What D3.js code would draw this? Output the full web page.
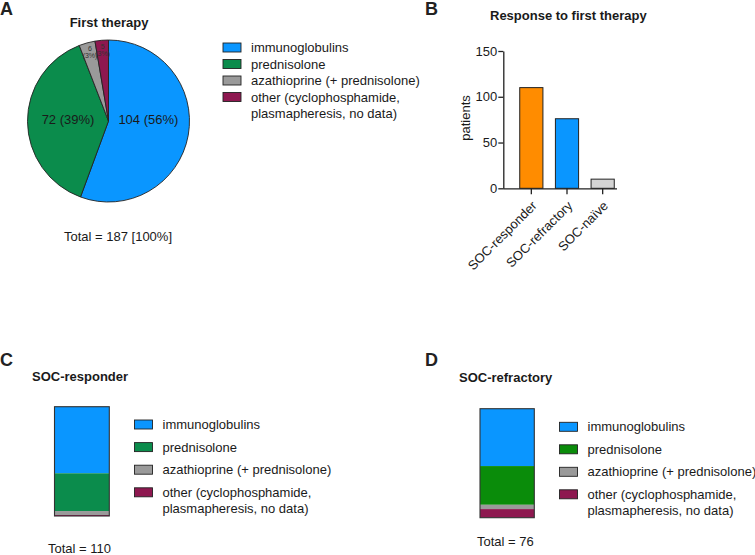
<!DOCTYPE html>
<html>
<head>
<meta charset="utf-8">
<script src="https://cdn.jsdelivr.net/npm/d3@7"></script>
<style>
  body { margin: 0; background: #fff; }
  text { font-family: "Liberation Sans", Arial, sans-serif; fill: #1a1a1a; }
  .panelLetter { font-size: 18px; font-weight: bold; fill: #222; }
  .title { font-size: 13px; font-weight: bold; }
  .axis text { font-size: 13px; fill: #1a1a1a; }
  .axis path, .axis line { stroke: #222; stroke-width: 1.3; }
</style>
</head>
<body>
<div id="visualisation"></div>
<script>
// treatment categories (shared by A, C, D)
const treatments = [
  "immunoglobulins",
  "prednisolone",
  "azathioprine (+ prednisolone)",
  "other (cyclophosphamide,|plasmapheresis, no data)"
];
const firstTherapy = [104, 72, 6, 5];
const firstPct = ["56%", "39%", "3%", "3%"];

const responseCats = ["SOC-responder", "SOC-refractory", "SOC-naive"];
const responseVals = [110, 76, 10];
const yTicks = [0, 50, 100, 150];

const responderVals = [67, 38, 4, 1];
const refractoryVals = [40, 27, 3, 6];

const colorsA = ["#0a96ff", "#0b8c4c", "#9a9a9a", "#8e1850"];
const colorsD = ["#0a96ff", "#0a8c0a", "#9a9a9a", "#8e1850"];
const barColors = ["#ff8c00", "#0a96ff", "#d4d4d4"];

const svg = d3
  .select("#visualisation")
  .append("svg")
  .attr("width", 755)
  .attr("height", 555);

function letter(x, y, s) {
  svg.append("text").attr("class", "panelLetter").attr("x", x).attr("y", y).text(s);
}

function legend(x, y, step, colors) {
  const g = svg.append("g").attr("transform", `translate(${x},${y})`);
  treatments.forEach((t, i) => {
    g.append("rect")
      .attr("x", 0)
      .attr("y", i * step - 4.5)
      .attr("width", 18)
      .attr("height", 9)
      .attr("fill", colors[i])
      .attr("stroke", "#222")
      .attr("stroke-width", 0.9);
    t.split("|").forEach((line, j) => {
      g.append("text")
        .attr("x", 28)
        .attr("y", i * step + j * 16.5)
        .attr("dy", "0.35em")
        .style("font-size", "13px")
        .text(line);
    });
  });
}

// ---- Panel A: pie
letter(0, 15, "A");
svg.append("text").attr("class", "title").attr("x", 109).attr("y", 27)
  .attr("text-anchor", "middle").text("First therapy");

const r = 81;
const pieG = svg.append("g").attr("transform", "translate(108.5,121)");
const colourA = d3.scaleOrdinal().domain(treatments).range(colorsA);
const pie = d3.pie().sort(null).value(d => d.v);
const arcs = pie(treatments.map((t, i) => ({ t, v: firstTherapy[i], p: firstPct[i] })));
const arc = d3.arc().innerRadius(0).outerRadius(r);

pieG.selectAll("path.slice")
  .data(arcs)
  .enter()
  .append("path")
  .attr("class", "slice")
  .attr("d", arc)
  .attr("fill", d => colourA(d.data.t))
  .attr("stroke", "#222")
  .attr("stroke-width", 0.9);

const bigArc = d3.arc().innerRadius(r * 0.5).outerRadius(r * 0.5);
const smallArc = d3.arc().innerRadius(r * 0.86).outerRadius(r * 0.86);
arcs.forEach(d => {
  if (d.data.v > 20) {
    // big labels sit on the horizontal midline of the pie
    const [cx] = bigArc.centroid(d);
    pieG.append("text")
      .attr("x", cx)
      .attr("y", -2)
      .attr("dy", "0.35em")
      .attr("text-anchor", "middle")
      .style("font-size", "13px")
      .text(`${d.data.v} (${d.data.p})`);
  } else {
    const [cx, cy] = smallArc.centroid(d);
    const t = pieG.append("text")
      .attr("text-anchor", "middle")
      .style("font-size", "7px")
      .style("fill", "#333");
    t.append("tspan").attr("x", cx).attr("y", cy - 3).text(d.data.v);
    t.append("tspan").attr("x", cx).attr("y", cy + 4.5).text(`(${d.data.p})`);
  }
});

svg.append("text").attr("x", 118).attr("y", 241).attr("text-anchor", "middle")
  .style("font-size", "13px").text(`Total = ${d3.sum(firstTherapy)} [100%]`);

legend(223, 47.5, 16.5, colorsA);

// ---- Panel B: bars
letter(425, 15, "B");
svg.append("text").attr("class", "title").attr("x", 490).attr("y", 20)
  .text("Response to first therapy");

const x = d3.scaleBand().domain(responseCats).range([513.5, 620.5])
  .paddingInner(0.35).paddingOuter(0.175);
const y = d3.scaleLinear().domain([0, 150]).range([188.3, 51]);

svg.selectAll("rect.bar")
  .data(responseCats)
  .enter()
  .append("rect")
  .attr("class", "bar")
  .attr("x", d => x(d))
  .attr("width", x.bandwidth())
  .attr("y", (d, i) => y(responseVals[i]))
  .attr("height", (d, i) => y(0) - y(responseVals[i]))
  .attr("fill", (d, i) => barColors[i])
  .attr("stroke", "#222")
  .attr("stroke-width", 1);

const gY = svg.append("g").attr("class", "axis")
  .attr("transform", "translate(503.3,0)")
  .call(d3.axisLeft(y).tickValues(yTicks).tickSize(5).tickSizeOuter(0));
gY.selectAll("text").attr("x", -6);

const gX = svg.append("g").attr("class", "axis")
  .attr("transform", `translate(0,${y(0)})`)
  .call(d3.axisBottom(x).tickSize(6).tickSizeOuter(0));
gX.select(".domain").attr("d", "M503.3,0.5H617");
gX.selectAll("text")
  .attr("text-anchor", "end")
  .attr("dy", "0.35em")
  .attr("transform", "translate(3,15) rotate(-45)")
  .attr("x", 0)
  .attr("y", 0)
  .text(d => d.replace("naive", "naïve"));

svg.append("text")
  .attr("transform", "translate(470,118) rotate(-90)")
  .attr("text-anchor", "middle")
  .style("font-size", "13px")
  .text("patients");

// ---- Panels C, D: stacked percent bars
function stackBar(vals, x0, x1, top, bottom, colors) {
  const total = d3.sum(vals);
  const sy = d3.scaleLinear().domain([0, total]).range([bottom, top]);
  const row = {};
  treatments.forEach((t, i) => (row[t] = vals[i]));
  const series = d3.stack().keys(treatments).order(d3.stackOrderReverse)([row]);
  const g = svg.append("g");
  g.selectAll("rect")
    .data(series)
    .enter()
    .append("rect")
    .attr("x", x0)
    .attr("width", x1 - x0)
    .attr("y", d => sy(d[0][1]))
    .attr("height", d => sy(d[0][0]) - sy(d[0][1]))
    .attr("fill", d => colors[treatments.indexOf(d.key)]);
  g.append("rect")
    .attr("x", x0)
    .attr("y", top)
    .attr("width", x1 - x0)
    .attr("height", bottom - top)
    .attr("fill", "none")
    .attr("stroke", "#333")
    .attr("stroke-width", 1.1);
  return total;
}

letter(0, 366, "C");
svg.append("text").attr("class", "title").attr("x", 32).attr("y", 381).text("SOC-responder");
const totC = stackBar(responderVals, 54.5, 109.3, 406.7, 516, colorsA);
legend(134.5, 424.5, 22.6, colorsA);
svg.append("text").attr("x", 48).attr("y", 553).style("font-size", "13px")
  .text(`Total = ${totC}`);

letter(425, 366, "D");
svg.append("text").attr("class", "title").attr("x", 459).attr("y", 382).text("SOC-refractory");
const totD = stackBar(refractoryVals, 480, 534.3, 408.7, 517.7, colorsD);
legend(559.5, 426.8, 22.5, colorsD);
svg.append("text").attr("x", 477).attr("y", 546).style("font-size", "13px")
  .text(`Total = ${totD}`);
</script>
</body>
</html>
